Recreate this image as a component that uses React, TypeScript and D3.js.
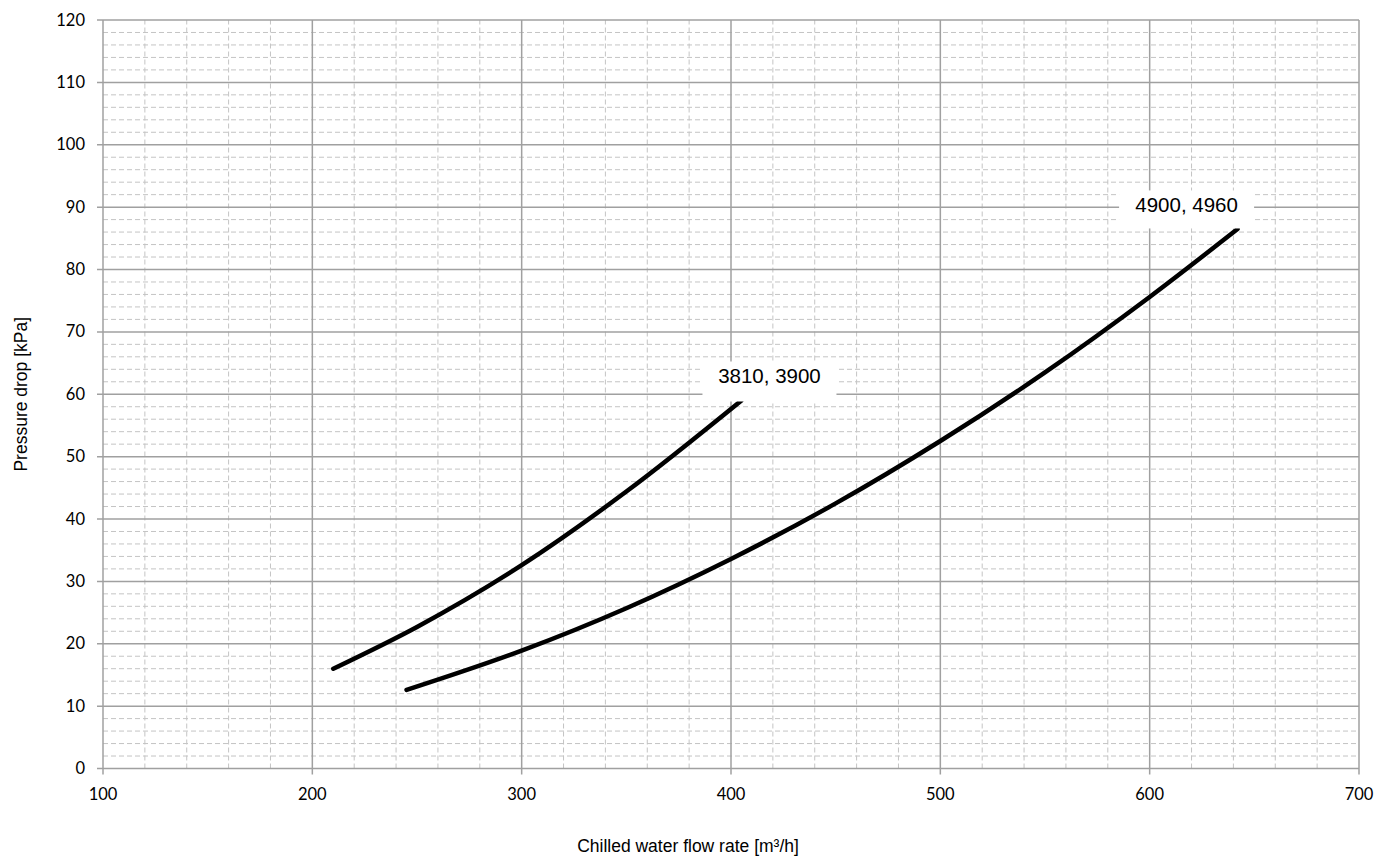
import React from "react";
import * as d3 from "d3";

const xTicks = [100, 200, 300, 400, 500, 600, 700];
const yTicks = [0, 10, 20, 30, 40, 50, 60, 70, 80, 90, 100, 110, 120];

const series1Flow = [210, 250, 300, 350, 405];
const series1Drop = [16, 22.7, 32.6, 44.4, 59];
const series1Label = "3810, 3900";

const series2Flow = [245, 300, 350, 400, 450, 500, 550, 600, 642];
const series2Drop = [12.6, 18.9, 25.7, 33.6, 42.5, 52.5, 63.5, 75.6, 86.5];
const series2Label = "4900, 4960";

const xTitle = "Chilled water flow rate [m³/h]";
const yTitle = "Pressure drop [kPa]";

export default function App() {
  const W = 1376;
  const H = 858;
  const x = d3.scaleLinear().domain([100, 700]).range([103, 1359]);
  const y = d3.scaleLinear().domain([0, 120]).range([768.5, 20]);

  const minorX = d3.range(100, 701, 20).filter((v) => v % 100 !== 0);
  const minorY = d3.range(0, 121, 2).filter((v) => v % 10 !== 0);

  const line = d3
    .line<[number, number]>()
    .x((d) => x(d[0]))
    .y((d) => y(d[1]))
    .curve(d3.curveMonotoneX);

  const s1 = series1Flow.map((f, i) => [f, series1Drop[i]] as [number, number]);
  const s2 = series2Flow.map((f, i) => [f, series2Drop[i]] as [number, number]);

  const end1 = s1[s1.length - 1];
  const end2 = s2[s2.length - 1];
  const l1x = x(end1[0]) + 28;
  const l1y = y(end1[1]) - 17;
  const l2x = x(end2[0]) - 51;
  const l2y = y(end2[1]) - 16.5;

  const tickFont = "Lato, 'Open Sans', sans-serif";
  const arial = "'Liberation Sans', Arial, sans-serif";

  return (
    <svg
      width={W}
      height={H}
      style={{ position: "absolute", left: 0, top: 0, background: "#fff" }}
    >
      <rect x={0} y={0} width={W} height={H} fill="#fff" />
      {/* minor grid */}
      {minorY.map((v) => (
        <line
          key={"my" + v}
          x1={x(100)}
          x2={x(700)}
          y1={y(v)}
          y2={y(v)}
          stroke="#c4c4c4"
          strokeWidth={1}
          strokeDasharray="5,3"
        />
      ))}
      {minorX.map((v) => (
        <line
          key={"mx" + v}
          x1={x(v)}
          x2={x(v)}
          y1={y(0)}
          y2={y(120)}
          stroke="#c4c4c4"
          strokeWidth={1}
          strokeDasharray="5,3"
        />
      ))}
      {/* major grid */}
      {yTicks.map((v) => (
        <line
          key={"Y" + v}
          x1={x(100) - 6}
          x2={x(700)}
          y1={y(v)}
          y2={y(v)}
          stroke="#a0a0a0"
          strokeWidth={1.5}
        />
      ))}
      {xTicks.map((v) => (
        <line
          key={"X" + v}
          x1={x(v)}
          x2={x(v)}
          y1={y(0) + 6}
          y2={y(120)}
          stroke="#a0a0a0"
          strokeWidth={1.5}
        />
      ))}
      {/* tick labels */}
      {yTicks.map((v) => (
        <text
          key={"yl" + v}
          x={85}
          y={y(v) + 5.5}
          textAnchor="end"
          fontFamily={tickFont}
          fontSize={16.5}
          fill="#000"
        >
          {v}
        </text>
      ))}
      {xTicks.map((v) => (
        <text
          key={"xl" + v}
          x={x(v)}
          y={800}
          textAnchor="middle"
          fontFamily={tickFont}
          fontSize={16.5}
          fill="#000"
        >
          {v}
        </text>
      ))}
      {/* curves */}
      <path d={line(s1) || ""} fill="none" stroke="#000" strokeWidth={4.5} strokeLinecap="round" />
      <path d={line(s2) || ""} fill="none" stroke="#000" strokeWidth={4.5} strokeLinecap="round" />
      {/* labels */}
      <rect x={l1x - 67} y={l1y - 22} width={134} height={40} fill="#fff" />
      <text x={l1x} y={l1y} textAnchor="middle" fontFamily={arial} fontSize={20.5} fill="#000">
        {series1Label}
      </text>
      <rect x={l2x - 67.5} y={l2y - 22} width={135} height={38} fill="#fff" />
      <text x={l2x} y={l2y} textAnchor="middle" fontFamily={arial} fontSize={20.5} fill="#000">
        {series2Label}
      </text>
      {/* axis titles */}
      <text
        x={W / 2}
        y={852}
        textAnchor="middle"
        fontFamily={arial}
        fontSize={17.5}
        fill="#000"
      >
        {xTitle}
      </text>
      <text
        transform={`translate(27, ${(y(0) + y(120)) / 2}) rotate(-90)`}
        textAnchor="middle"
        fontFamily={arial}
        fontSize={17.5}
        fill="#000"
      >
        {yTitle}
      </text>
    </svg>
  );
}
